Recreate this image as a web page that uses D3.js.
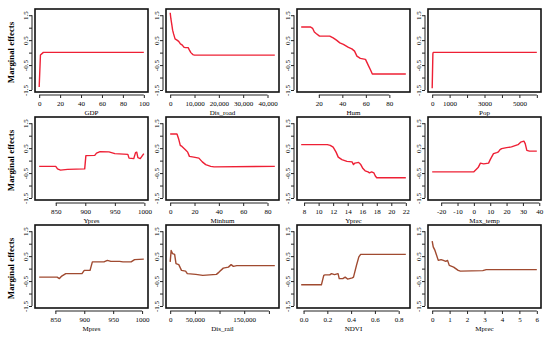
<!DOCTYPE html>
<html>
<head>
<meta charset="utf-8">
<script src="https://cdn.jsdelivr.net/npm/d3@7"></script>
<style>
  body { margin: 0; background: #fff; }
  svg { display: block; }
  text { font-family: "Liberation Serif", "Times New Roman", serif; fill: #000; }
</style>
</head>
<body>
<div id="chart"></div>
<script>
//////////////////////////////////////////////////////////////
//// Data (x values, marginal effect values)

var gdpX = [0, 1.2, 4, 100];
var gdpY = [-1.38, -0.1, 0.01, 0.01];

var disRoadX = [0, 300, 700, 1000, 1400, 2000, 2800, 3500, 4200, 5000, 5600, 6200, 7400, 7800, 8500, 9300, 10000, 43000];
var disRoadY = [1.6, 1.35, 1.1, 0.9, 0.75, 0.55, 0.5, 0.45, 0.35, 0.3, 0.22, 0.2, 0.2, 0.12, 0.0, -0.08, -0.1, -0.1];

var humX = [5, 12.7, 14.8, 16.2, 17.7, 20.6, 29.3, 32.2, 35, 37.9, 40.9, 45.2, 48.1, 50.4, 52.4, 55.3, 59.7, 62, 64, 65.5, 94];
var humY = [1.03, 1.03, 0.97, 0.83, 0.77, 0.66, 0.66, 0.59, 0.5, 0.39, 0.33, 0.21, 0.15, 0.06, -0.14, -0.23, -0.27, -0.5, -0.7, -0.86, -0.86];

var popX = [0, 40, 60, 6000];
var popY = [-1.43, -0.05, 0.01, 0.01];

var ypresX = [822, 850, 853, 858, 870, 899, 901, 916, 919, 925, 940, 950, 972, 974, 982, 985, 987, 989, 993, 996, 999];
var ypresY = [-0.23, -0.23, -0.33, -0.38, -0.35, -0.33, 0.2, 0.21, 0.3, 0.36, 0.35, 0.28, 0.25, 0.1, 0.08, 0.32, 0.34, 0.12, 0.08, 0.18, 0.28];

var minhumX = [0, 5.6, 6.9, 8.3, 9.7, 12.5, 14.4, 15.8, 19.4, 23.6, 26.4, 29.2, 33.3, 36.1, 86];
var minhumY = [1.07, 1.07, 0.88, 0.61, 0.57, 0.44, 0.34, 0.17, 0.14, 0.1, -0.05, -0.16, -0.23, -0.25, -0.23];

var yprecX = [7.6, 11.2, 11.6, 12.0, 12.4, 12.7, 13.2, 13.9, 14.6, 14.8, 15.0, 15.5, 15.8, 16.1, 16.4, 16.8, 17.0, 17.3, 17.6, 17.8, 18.0, 22];
var yprecY = [0.64, 0.64, 0.61, 0.54, 0.34, 0.14, 0.04, -0.03, -0.05, -0.16, -0.1, -0.07, -0.16, -0.32, -0.41, -0.45, -0.49, -0.45, -0.49, -0.62, -0.69, -0.69];

var maxTempX = [-25.5, 0, 1.4, 2.6, 4, 6, 9, 10, 12, 14, 15, 16, 17, 20, 23, 27, 28.6, 30.6, 31.4, 32.4, 34, 38.5];
var maxTempY = [-0.45, -0.45, -0.36, -0.28, -0.1, -0.13, -0.1, 0.04, 0.28, 0.32, 0.35, 0.44, 0.48, 0.52, 0.55, 0.64, 0.74, 0.78, 0.68, 0.41, 0.38, 0.38];

var mpresX = [822, 853, 857, 861, 868, 896, 900, 910, 914, 934, 940, 946, 961, 967, 981, 987, 1003];
var mpresY = [-0.34, -0.34, -0.4, -0.3, -0.2, -0.2, -0.07, -0.07, 0.27, 0.27, 0.33, 0.29, 0.29, 0.27, 0.27, 0.36, 0.38];

var disRailX = [0, 2000, 4900, 9000, 11800, 17400, 22900, 31200, 34700, 52000, 66000, 93700, 99000, 107600, 118000, 123500, 128000, 135000, 212000];
var disRailY = [0.27, 0.73, 0.6, 0.57, 0.2, 0.16, -0.07, -0.1, -0.2, -0.23, -0.27, -0.23, -0.14, 0.02, 0.06, 0.16, 0.09, 0.12, 0.12];

var ndviX = [-0.02, 0.15, 0.17, 0.18, 0.22, 0.235, 0.26, 0.29, 0.3, 0.33, 0.35, 0.37, 0.41, 0.42, 0.445, 0.465, 0.48, 0.86];
var ndviY = [-0.65, -0.65, -0.27, -0.25, -0.25, -0.2, -0.24, -0.2, -0.4, -0.4, -0.34, -0.42, -0.37, -0.34, 0.13, 0.47, 0.57, 0.57];

var mprecX = [0, 0.06, 0.16, 0.35, 0.51, 0.64, 0.78, 0.88, 0.98, 1.23, 1.49, 1.62, 2.9, 3.1, 6];
var mprecY = [1.1, 0.87, 0.73, 0.33, 0.36, 0.33, 0.29, 0.33, 0.13, 0.06, -0.07, -0.1, -0.08, -0.04, -0.04];

//// Tick values and labels ("" = tick without a label)
var yTicks = [-1.5, -1, -0.5, 0, 0.5, 1, 1.5];
var yTickLabels = ["-1.5", "", "-0.5", "", "0.5", "", "1.5"];

var gdpTicks = [0, 20, 40, 60, 80, 100];
var gdpLabels = ["0", "20", "40", "60", "80", "100"];
var disRoadTicks = [0, 10000, 20000, 30000, 40000];
var disRoadLabels = ["0", "10,000", "20,000", "30,000", "40,000"];
var humTicks = [20, 40, 60, 80];
var humLabels = ["20", "40", "60", "80"];
var popTicks = [0, 1000, 2000, 3000, 4000, 5000, 6000];
var popLabels = ["0", "1000", "", "3000", "", "5000", ""];
var ypresTicks = [850, 900, 950, 1000];
var ypresLabels = ["850", "900", "950", "1000"];
var minhumTicks = [0, 20, 40, 60, 80];
var minhumLabels = ["0", "20", "40", "60", "80"];
var yprecTicks = [8, 10, 12, 14, 16, 18, 20, 22];
var yprecLabels = ["8", "10", "12", "14", "16", "18", "20", "22"];
var maxTempTicks = [-20, -10, 0, 10, 20, 30, 40];
var maxTempLabels = ["-20", "-10", "0", "10", "20", "30", "40"];
var mpresTicks = [850, 900, 950, 1000];
var mpresLabels = ["850", "900", "950", "1000"];
var disRailTicks = [0, 50000, 100000, 150000, 200000];
var disRailLabels = ["0", "50,000", "", "150,000", ""];
var ndviTicks = [0, 0.2, 0.4, 0.6, 0.8];
var ndviLabels = ["0.0", "0.2", "0.4", "0.6", "0.8"];
var mprecTicks = [0, 1, 2, 3, 4, 5, 6];
var mprecLabels = ["0", "1", "2", "3", "4", "5", "6"];

var varNames = ["GDP", "Dis_road", "Hum", "Pop", "Ypres", "Minhum", "Yprec", "Max_temp", "Mpres", "Dis_rail", "NDVI", "Mprec"];

//////////////////////////////////////////////////////////////

var panels = [
  [gdpX, gdpY, gdpTicks, gdpLabels],
  [disRoadX, disRoadY, disRoadTicks, disRoadLabels],
  [humX, humY, humTicks, humLabels],
  [popX, popY, popTicks, popLabels],
  [ypresX, ypresY, ypresTicks, ypresLabels],
  [minhumX, minhumY, minhumTicks, minhumLabels],
  [yprecX, yprecY, yprecTicks, yprecLabels],
  [maxTempX, maxTempY, maxTempTicks, maxTempLabels],
  [mpresX, mpresY, mpresTicks, mpresLabels],
  [disRailX, disRailY, disRailTicks, disRailLabels],
  [ndviX, ndviY, ndviTicks, ndviLabels],
  [mprecX, mprecY, mprecTicks, mprecLabels]
];

var width = 550, height = 338;
var boxW = 113, boxH = 83;
var lefts = [35, 166, 297, 428];
var tops = [9, 117, 225];
var lineColors = ["#ee2035", "#ee2035", "#a04a30"];

var svg = d3.select("#chart")
  .append("svg")
    .attr("width", width)
    .attr("height", height);

panels.forEach(function(p, i) {
  var col = i % 4, row = Math.floor(i / 4);
  var L = lefts[col], T = tops[row];
  var xs = p[0], ys = p[1], ticks = p[2], labels = p[3];

  // R style: 4% padding around the data range
  var ext = d3.extent(xs);
  var pad = (ext[1] - ext[0]) * 0.04;
  var x = d3.scaleLinear().domain([ext[0] - pad, ext[1] + pad]).range([L, L + boxW]);
  var y = d3.scaleLinear().domain([-1.58, 1.75]).range([T + boxH, T]);

  var g = svg.append("g");

  // curve
  var pts = xs.map(function(d, k) { return [d, ys[k]]; });
  g.append("path")
    .datum(pts)
    .attr("fill", "none")
    .attr("stroke", lineColors[row])
    .attr("stroke-width", 1.4)
    .attr("stroke-linejoin", "round")
    .attr("d", d3.line().x(function(d) { return x(d[0]); }).y(function(d) { return y(d[1]); }));

  // box
  g.append("rect")
    .attr("x", L).attr("y", T)
    .attr("width", boxW).attr("height", boxH)
    .attr("fill", "none")
    .attr("stroke", "#111")
    .attr("stroke-width", 1.6);

  // x axis
  var xAxis = d3.axisBottom(x)
    .tickValues(ticks)
    .tickSize(3)
    .tickSizeOuter(0)
    .tickFormat(function(d, k) { return labels[k]; });
  var xg = g.append("g")
    .attr("transform", "translate(0," + (T + boxH + 3) + ")")
    .call(xAxis);
  xg.select(".domain").remove();
  xg.append("line")
    .attr("x1", x(ticks[0])).attr("x2", x(ticks[ticks.length - 1]))
    .attr("stroke", "#222");
  xg.selectAll(".tick line").attr("stroke", "#222");
  xg.selectAll("text")
    .attr("y", 10.8).attr("dy", null)
    .style("font-size", "7px")
    .style("font-family", "Liberation Serif");

  // y axis
  var yAxis = d3.axisLeft(y)
    .tickValues(yTicks)
    .tickSize(3)
    .tickSizeOuter(0)
    .tickFormat(function(d, k) { return yTickLabels[k]; });
  var yg = g.append("g")
    .attr("transform", "translate(" + (L - 3) + ",0)")
    .call(yAxis);
  yg.select(".domain").remove();
  yg.append("line")
    .attr("y1", y(yTicks[0])).attr("y2", y(yTicks[yTicks.length - 1]))
    .attr("stroke", "#222");
  yg.selectAll(".tick line").attr("stroke", "#222");
  yg.selectAll("text")
    .attr("transform", "rotate(-90)")
    .attr("x", 0).attr("y", -4).attr("dy", null)
    .attr("text-anchor", "middle")
    .style("font-size", "7px")
    .style("font-family", "Liberation Serif");

  // x title
  g.append("text")
    .attr("x", L + boxW / 2)
    .attr("y", T + boxH + 22.5)
    .attr("text-anchor", "middle")
    .style("font-size", "7px")
    .text(varNames[i]);

  // y title on first column
  if (col === 0) {
    g.append("text")
      .attr("transform", "translate(14," + (T + boxH / 2 + 2) + ") rotate(-90)")
      .attr("text-anchor", "middle")
      .style("font-size", "8.8px")
      .style("font-weight", "bold")
      .text("Marginal effects");
  }
});
</script>
</body>
</html>
